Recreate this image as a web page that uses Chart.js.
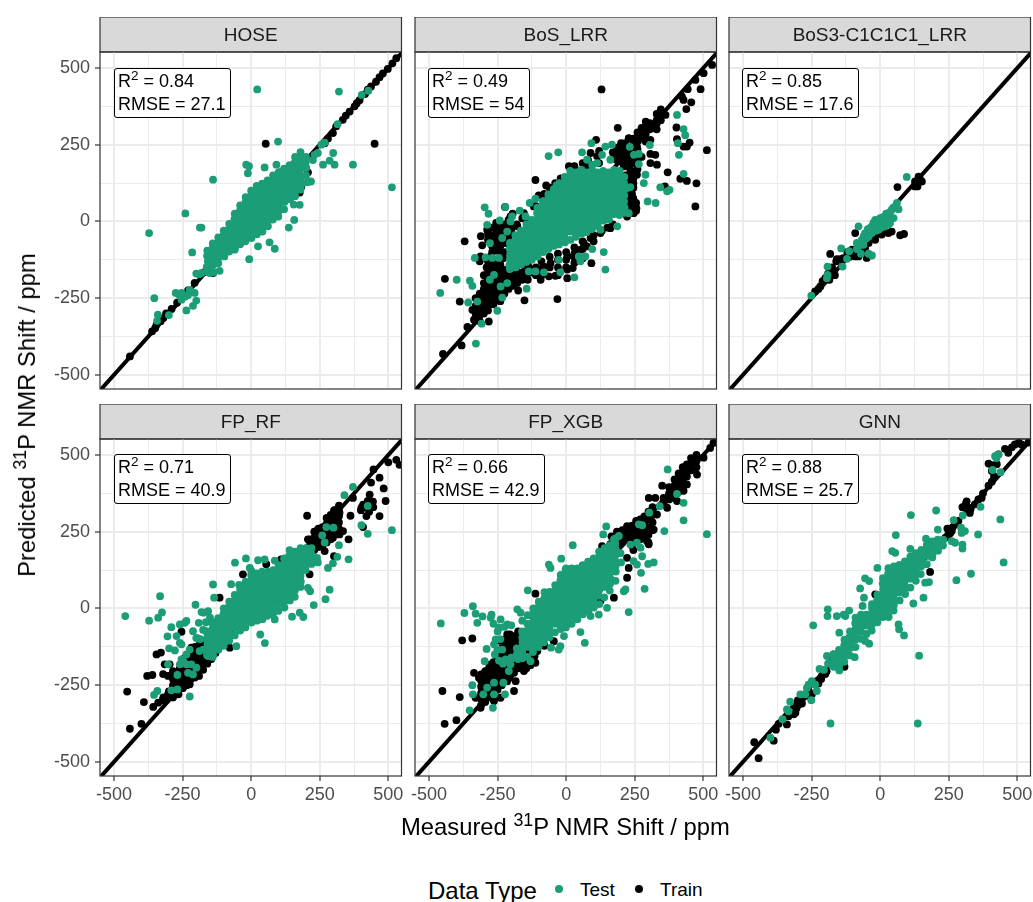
<!DOCTYPE html>
<html>
<head>
<meta charset="utf-8">
<title>31P NMR shift parity plots</title>
<script src="https://cdn.jsdelivr.net/npm/chart.js@4"></script>
<style>
  html, body { margin: 0; padding: 0; background: #fff; overflow: hidden; }
  body { width: 1033px; height: 902px; position: relative; font-family: "Liberation Sans", Arial, sans-serif; color: #000; }
  canvas { position: absolute; }
  .stats { position: absolute; background: #fff; border: 1px solid #000; border-radius: 3px; padding: 1px 4px 1px 3px; font-size: 18px; line-height: 23px; white-space: nowrap; z-index: 5; }
  .stats sup, .axis-title sup { font-size: 75%; line-height: 0; }
  .axis-title { position: absolute; font-size: 23.8px; line-height: 28px; white-space: nowrap; z-index: 5; }
  .legend-text { position: absolute; white-space: nowrap; }
  .legend-dot { position: absolute; width: 8px; height: 8px; border-radius: 50%; }
</style>
</head>
<body>
<canvas id="c0" width="370" height="402" style="left:40px;top:17px"></canvas>
<canvas id="c1" width="370" height="402" style="left:355px;top:17px"></canvas>
<canvas id="c2" width="370" height="402" style="left:669px;top:17px"></canvas>
<canvas id="c3" width="370" height="402" style="left:40px;top:404px"></canvas>
<canvas id="c4" width="370" height="402" style="left:355px;top:404px"></canvas>
<canvas id="c5" width="370" height="402" style="left:669px;top:404px"></canvas>

<div class="stats" style="left:114px;top:68px">R<sup>2</sup> = 0.84<br>RMSE = 27.1</div>
<div class="stats" style="left:428px;top:68px">R<sup>2</sup> = 0.49<br>RMSE = 54</div>
<div class="stats" style="left:742px;top:68px">R<sup>2</sup> = 0.85<br>RMSE = 17.6</div>
<div class="stats" style="left:114px;top:454px">R<sup>2</sup> = 0.71<br>RMSE = 40.9</div>
<div class="stats" style="left:428px;top:454px">R<sup>2</sup> = 0.66<br>RMSE = 42.9</div>
<div class="stats" style="left:742px;top:454px">R<sup>2</sup> = 0.88<br>RMSE = 25.7</div>

<div class="axis-title" style="left:401px;top:813px">Measured <sup>31</sup>P NMR Shift / ppm</div>
<div class="axis-title" style="left:27px;top:415px;transform:translate(-50%,-50%) rotate(-90deg)">Predicted <sup>31</sup>P NMR Shift / ppm</div>

<div class="legend-text" style="left:428px;top:877px;font-size:24px;line-height:28px">Data Type</div>
<div class="legend-dot" style="left:555px;top:885px;background:#1b9e77"></div>
<div class="legend-text" style="left:580px;top:879px;font-size:19px;line-height:22px">Test</div>
<div class="legend-dot" style="left:635px;top:885px;background:#000"></div>
<div class="legend-text" style="left:660px;top:879px;font-size:19px;line-height:22px">Train</div>

<script>
const panelNames = ['HOSE', 'BoS_LRR', 'BoS3-C1C1C1_LRR', 'FP_RF', 'FP_XGB', 'GNN'];
const majorTicks = [-500, -250, 0, 250, 500];
const minorTicks = [-375, -125, 125, 375];
const parityLine = [[-600, -600], [600, 600]];

const hoseTrain = [[-442,-440],[-361,-358],[-345,-337],[-330,-325],[-290,-285],[-270,-265],[-206,-200],[-139,-168],[-150,-152],[-170,-165],[-100,-110],
  [268,255],[298,288],[334,331],[359,358],[377,375],[425,429],[437,440],[468,470],[498,497],[529,532],
  [53,253],[450,253],[207,160],[177,94],[183,114],[105,160],[79,125],[130,150],[160,120],
  [280,270],[310,310],[345,345],[385,385],[395,395],[415,415],[455,455],[480,482],[515,515],[-320,-315],[-310,-300],[-250,-245],[-230,-225],[-350,-348]];
const hoseTest = [[22,430],[320,423],[403,412],[427,426],[315,317],[268,257],[256,250],[98,260],[243,223],[231,217],[299,223],[371,185],[262,185],[286,198],[304,185],[513,111],
  [-18,185],[-12,157],[-8,180],[49,176],[92,185],[-139,136],[-240,26],[-372,-38],[-187,-20],[-181,-20],[-215,-101],[-7,-123],[86,-89],[67,-68],[25,-81],[137,-20],[157,5],[177,54],[155,55],
  [-353,-250],[-340,-304],[-343,-324],[-300,-305],[-236,-290],[-212,-275],[-200,-258],[-275,-233],[-254,-233],[-224,-223],[-206,-233],[-254,-255],[-240,-245],[-262,-240],[-230,-240],[-200,-170],[-181,-168],[-151,-168],[-115,-161],[-190,-172],
  [-160,-95],[-161,-112],[-158,-130],[-162,-148],[-160,-163],
  [-140,-72],[-142,-90],[-139,-108],[-141,-126],[-140,-144],[-138,-166],
  [-120,-52],[-121,-70],[-118,-88],[-120,-106],[-122,-124],[-120,-136],
  [-100,-30],[-102,-48],[-99,-66],[-100,-84],[-101,-102],[-98,-114],
  [-80,-8],[-81,-26],[-78,-44],[-80,-62],[-82,-80],[-80,-98],
  [-60,25],[-61,7],[-59,-11],[-60,-29],[-62,-47],[-60,-65],[-58,-83],[-60,-92],
  [-40,52],[-41,34],[-39,16],[-40,-2],[-42,-20],[-40,-38],[-38,-56],[-40,-74],
  [-20,79],[-21,61],[-19,43],[-20,25],[-22,7],[-20,-11],[-18,-29],[-20,-47],[-21,-65],
  [0,100],[-1,82],[1,64],[0,46],[-2,28],[0,10],[2,-8],[0,-26],[-1,-44],[1,-54],
  [20,116],[19,98],[21,80],[20,62],[18,44],[20,26],[22,8],[20,-10],[19,-28],[21,-42],
  [40,123],[39,105],[41,87],[40,69],[38,51],[40,33],[42,15],[40,-3],[39,-21],[41,-33],
  [60,134],[59,116],[61,98],[60,80],[58,62],[60,44],[62,26],[60,8],[59,-10],[61,-16],
  [80,150],[79,132],[81,114],[80,96],[78,78],[80,60],[82,42],[80,24],[79,6],
  [100,160],[99,142],[101,124],[100,106],[98,88],[100,70],[102,52],[100,34],[99,16],
  [120,172],[119,154],[121,136],[120,118],[118,100],[120,82],[122,64],[120,40],
  [140,183],[139,165],[141,147],[140,129],[138,111],[140,93],[142,72],
  [160,210],[159,192],[161,174],[160,156],[158,138],[160,120],[162,100],[160,82],
  [180,226],[179,208],[181,190],[180,172],[178,154],[180,136],[182,118],[180,104],
  [200,210],[199,192],[201,174],[200,150],[218,130],[205,128],[225,200]];

const bosTrain = [[129,430],[188,305],[402,306],[513,232],[471,49],[475,124],[440,132],[416,139],[370,160],[440,244],[450,257],[428,244],[404,268],[438,366],[456,388],[490,431],[443,431],[422,407],[428,396],[471,461],[501,483],[532,510],[362,347],[331,320],[313,304],[283,277],[271,282],[228,271],[109,266],[325,217],[307,220],[331,185],[307,190],[258,152],[234,157],[360,114],[256,43],
  [-112,135],[-73,117],[-370,-65],[-311,-48],[-306,-78],[-223,47],[-245,-8],[-442,-187],[-388,-261],[-152,-257],[-32,-253],[-282,-326],[-381,-404],[-449,-432],[-360,-344],[-336,-320],[-342,-288],[-318,-293],[-288,-271],[-263,-244],[-245,-233],[-93,-190],[-63,-179],[4,-185],[-39,-177],[24,-152],[92,-136],
  [89,223],[113,212],[186,223],[222,212],[210,179],[234,168],[222,103],[234,71],[246,27],[222,16],[161,-22],[125,-38],[89,-54],[64,-71],[258,244],[271,277],[307,266],[-178,-16],[-203,16],[-154,27],[-118,49],[-142,5],[-288,-27],[-239,-38],[-263,-60],[-312,-114],[-275,-114],[-251,-136],[-275,-179],[-300,-201],[-251,-223],[-227,-157],[-203,-201],[-178,-201],[-154,-179],[-118,-168],[-81,-147],[-57,-136],[4,-114],[28,-114],[52,-92],[76,-81],[4,-157],
  [190,200],[205,215],[215,230],[195,220],[235,195],[250,215],[240,240],[262,262],[218,150],[245,125],[225,135],[240,90],[-260,-90],[-255,-160],[-240,-140],[-290,-150],[-300,-240],[-285,-225],[-265,-205],[-250,-180],[-230,-190],[-300,-270],[-315,-290],[-265,-270],[-250,-255],[-230,-120],[-220,-70],[-220,-25],[-200,-30],[-180,-10],[-170,-170],[-135,-150],
  [170,205],[170,225],[185,200],[185,240],[200,195],[200,215],[200,235],[200,255],[215,195],[215,255],[230,180],[230,200],[230,220],[230,270],[245,190],[245,250],[245,270],[260,170],[260,200],[260,235],[260,290],[275,210],[275,290],[275,305],[290,260],[290,285],[290,310],[290,325],[305,300],[305,320],[330,300],[330,330],[330,350],[345,330],[345,365],
  [215,60],[215,80],[215,120],[215,40],[230,40],[230,60],[230,85],[230,125],[245,55],[245,75],[245,110],[245,140],[255,60],[255,35],
  [-330,-250],[-330,-275],[-330,-300],[-330,-320],[-315,-130],[-315,-235],[-315,-255],[-315,-275],[-315,-300],[-315,-325],[-300,-175],[-300,-220],[-300,-260],[-300,-280],[-300,-300],
  [-285,-40],[-285,-60],[-285,-130],[-285,-170],[-285,-190],[-285,-210],[-285,-250],[-285,-290],[-270,-20],[-270,-45],[-270,-80],[-270,-100],[-270,-135],[-270,-155],[-270,-195],[-270,-215],[-270,-235],[-270,-255],
  [-255,-5],[-255,-25],[-255,-50],[-255,-75],[-255,-95],[-255,-150],[-255,-170],[-255,-190],[-255,-210],[-255,-230],[-255,-250],[-240,-15],[-240,-60],[-240,-80],[-240,-100],[-240,-150],[-240,-170],[-240,-190],[-240,-210],[-240,-230],[-240,-260],
  [-225,-10],[-225,-30],[-225,-50],[-225,-70],[-225,-100],[-225,-170],[-225,-190],[-225,-210],[-225,-235],[-210,5],[-210,-15],[-210,-50],[-210,-180],[-210,-200],[-210,-220],[-195,25],[-195,-15],[-195,-170],[-195,-190],[-195,-210],
  [-175,-165],[-175,-185],[-175,-225],[-160,10],[-160,-170],[-160,-190],[-140,-170],[-140,-190],[-110,50],[-110,-150],[-110,-175],[-90,-130],[-90,-155],[-90,-175],[-60,-115],[-60,-150],[-30,-105],[-30,-125],[-30,-150],[-30,-175],[0,-100],[0,-125],[0,-150],[30,-85],[30,-105],[30,-135],[60,-65],[60,-90],[60,-120],[100,-45],[100,-65],[130,-30],[150,-20],[170,-10],
  [-100,85],[-80,90],[-60,110],[-40,125],[-20,140],[10,180],[30,180],[60,190],[80,200],[80,180],[120,230],[120,190]];
const bosTest = [[404,347],[428,301],[434,281],[407,255],[411,217],[428,155],[305,249],[289,152],[283,125],[343,111],[368,98],[377,103],[297,65],[326,60],[234,112],[222,109],[265,187],[232,243],[247,217],[265,220],[167,250],[143,244],[131,217],[92,255],[58,225],[76,201],[95,185],[113,190],[161,201],[-29,225],[-64,213],[-35,117],[-112,74],[-133,60],[-169,35],[-148,16],[-197,16],[-203,0],[-222,47],[-297,46],[-283,25],[-288,-11],[-242,3],[-215,-33],[-233,-54],[-278,-71],[-333,-119],[-294,-117],[-269,-119],[-245,-119],[-263,-174],[-278,-190],[-399,-190],[-351,-193],[-342,-210],[-459,-233],[-357,-264],[-324,-261],[-233,-248],[-251,-291],[-308,-333],[-329,-398],[-239,-212],[-215,-201],[-144,-219],[-136,-163],[-112,-163],[-81,-166],[-21,-166],[30,-182],[143,-157],[137,-100],[95,-90],[46,-114],[70,-114],[52,-130],[-27,-125],[186,-16],[125,-27],[228,27],
  [-205,-70],[-206,-88],[-204,-106],[-205,-124],[-207,-142],[-205,-155],
  [-185,-45],[-186,-63],[-184,-81],[-185,-99],[-187,-117],[-185,-135],[-184,-150],
  [-165,-30],[-166,-48],[-164,-66],[-165,-84],[-167,-102],[-165,-120],[-164,-140],
  [-145,-10],[-146,-28],[-144,-46],[-145,-64],[-147,-82],[-145,-100],[-144,-118],[-145,-132],
  [-125,5],[-126,-13],[-124,-31],[-125,-49],[-127,-67],[-125,-85],[-124,-103],[-125,-125],
  [-105,45],[-106,27],[-104,9],[-105,-9],[-107,-27],[-105,-45],[-104,-63],[-105,-81],[-106,-99],[-104,-115],
  [-85,65],[-86,47],[-84,29],[-85,11],[-87,-7],[-85,-25],[-84,-43],[-85,-61],[-86,-79],[-84,-100],
  [-65,88],[-66,70],[-64,52],[-65,34],[-67,16],[-65,-2],[-64,-20],[-65,-38],[-66,-56],[-64,-74],[-65,-90],
  [-45,105],[-46,87],[-44,69],[-45,51],[-47,33],[-45,15],[-44,-3],[-45,-21],[-46,-39],[-44,-57],[-45,-80],
  [-25,125],[-26,107],[-24,89],[-25,71],[-27,53],[-25,35],[-24,17],[-25,-1],[-26,-19],[-24,-37],[-25,-55],[-26,-75],
  [-5,145],[-6,127],[-4,109],[-5,91],[-7,73],[-5,55],[-4,37],[-5,19],[-6,1],[-4,-17],[-5,-35],[-6,-53],[-4,-68],
  [15,165],[14,147],[16,129],[15,111],[13,93],[15,75],[16,57],[15,39],[14,21],[16,3],[15,-15],[14,-33],[16,-60],
  [35,160],[34,142],[36,124],[35,106],[33,88],[35,70],[36,52],[35,34],[34,16],[36,-2],[35,-20],[34,-38],[36,-50],
  [55,168],[54,150],[56,132],[55,114],[53,96],[55,78],[56,60],[55,42],[54,24],[56,6],[55,-12],[54,-30],[56,-40],
  [75,160],[74,142],[76,124],[75,106],[73,88],[75,70],[76,52],[75,34],[74,16],[76,-2],[75,-20],[74,-35],
  [95,168],[94,150],[96,132],[95,114],[93,96],[95,78],[96,60],[95,42],[94,24],[96,6],[95,-12],[94,-25],
  [115,160],[114,142],[116,124],[115,106],[113,88],[115,70],[116,52],[115,34],[114,16],[116,-2],[115,-15],
  [135,165],[134,147],[136,129],[135,111],[133,93],[135,75],[136,57],[135,39],[134,21],[136,3],
  [155,160],[154,142],[156,124],[155,106],[153,88],[155,70],[156,52],[155,34],[154,16],[156,6],
  [175,168],[174,150],[176,132],[175,114],[173,96],[175,78],[176,60],[175,42],[174,24],
  [195,165],[194,147],[196,129],[195,111],[193,93],[195,75],[196,57],[195,39],[194,21],
  [212,145],[211,125],[213,105],[212,85],[211,65],[213,45],[212,28]];

const bos3Train = [[63,112],[127,130],[152,130],[140,146],[127,114],[136,114],[87,-41],[73,-45],[42,-33],[30,-38],[6,-43],[-18,-60],[-42,-70],[-55,-87],[-67,-98],[-91,-114],[-103,-92],[-146,-123],[-158,-123],[-182,-106],[-91,-38],[-49,-119],[-170,-168],[-175,-150],[-200,-185],[-182,-157],[-237,-228],[-218,-212],[-79,-114],
  [-120,-100],[-135,-120],[-160,-130],[-100,-100],[-110,-115],[-80,-100],[-60,-80],[-40,-60],[-20,-50],[0,-40],[20,-35],[-190,-170],[-210,-195],[-185,-190],[-165,-175],[135,130],[145,138],[-225,-220]];
const bos3Test = [[97,145],[-79,-81],[-85,-70],[-67,-60],[-55,-38],[-42,-33],[-30,-16],[-18,5],[-24,-27],[-6,-27],[6,-5],[18,16],[30,27],[42,38],[55,49],[67,40],[61,60],[18,-16],[36,-5],[49,11],[0,11],[-12,-12],[-42,-49],[-30,-38],[-61,-76],[-79,-16],[-142,-88],[-113,-97],[-121,-122],[-137,-147],[-192,-147],[-192,-174],[-194,-185],[-251,-242],[-70,-105],[-42,-105],[-30,-111],[25,5],[12,15],[-8,-10],[-60,-48],[-50,-55],[-35,-20],
  [-70,-70],[-60,-65],[-50,-45],[-40,-40],[-25,-5],[-10,0],[10,5],[22,25],[36,30],[48,45],[-15,-30],[5,-20],[30,-10],[15,0],[-5,-15],[-30,-30],[-45,-25],[60,45],[-20,-15],[-85,-90]];

const rfTrain = [[-442,-392],[-400,-376],[-391,-305],[-452,-271],[-357,-321],[-339,-307],[-321,-296],[-303,-280],[-285,-275],[-379,-220],[-360,-217],[-345,-150],[-329,-144],[-315,-182],[-297,-182],[-321,-214],[-303,-220],[-285,-225],[-266,-247],[-248,-258],[-224,-247],[-272,-280],[-285,-258],[-254,-76],
  [-212,-150],[-188,-139],[-163,-172],[-188,-194],[-200,-215],[-224,-225],[-248,-215],[-151,-161],[-127,-128],[-176,-161],[-200,-172],[-260,-194],[-236,-194],[-218,-128],[-242,-161],[-285,-204],[-115,-47],[-115,35],[-78,-128],
  [204,302],[238,252],[256,258],[274,274],[298,290],[322,312],[302,319],[322,241],[298,230],[355,225],[335,252],[286,241],[268,187],[238,209],[207,225],[219,176],[225,154],[302,170],[362,302],[371,360],[402,328],[420,301],[408,338],[432,371],[444,348],[468,301],[490,350],[483,391],[468,426],[437,410],[446,453],[408,265],[500,476],[529,484],[541,468],
  [55,144],[109,160],[13,111],[-30,111],[213,111],
  [-320,-290],[-320,-300],[-300,-270],[-300,-285],[-285,-210],[-285,-230],[-285,-250],[-285,-290],[-265,-225],[-265,-245],[-265,-265],[-265,-280],[-250,-200],[-250,-220],[-250,-240],[-250,-260],
  [-235,-165],[-235,-185],[-235,-205],[-235,-225],[-235,-250],[-220,-150],[-220,-170],[-220,-190],[-220,-210],[-220,-230],[-205,-125],[-205,-145],[-205,-165],[-205,-185],[-205,-205],[-205,-225],
  [-190,-120],[-190,-140],[-190,-160],[-190,-180],[-190,-200],[-190,-220],[-175,-120],[-175,-140],[-175,-160],[-175,-180],[-175,-200],[-160,-125],[-160,-145],[-160,-165],[-160,-180],[-145,-130],[-145,-150],[-145,-165],[-130,-125],[-130,-145],
  [215,185],[215,205],[215,225],[230,190],[230,210],[230,230],[230,250],[245,200],[245,220],[245,240],[245,260],[260,205],[260,225],[260,245],[260,265],[275,215],[275,235],[275,255],[275,295],[290,225],[290,245],[290,265],[290,285],[290,305],[305,240],[305,260],[305,280],[305,300],[305,320],[320,260],[320,280],[320,300],[320,320],[320,335],
  [415,330],[430,315],[445,330],[425,350],[400,320]];
const rfTest = [[-459,-25],[-332,40],[-325,-13],[-339,-30],[-372,-40],[-291,-61],[-305,-91],[-299,-130],[-278,-137],[-303,-182],[-354,-282],[-342,-269],[-224,-287],[-291,-267],[-269,-264],[-269,-217],[-260,-182],[-248,-171],[-203,12],[-181,-12],[-173,-14],[-139,78],[-135,35],[-242,-47],[-260,-52],[-236,-41],[-212,-74],[-200,-96],[-194,-98],[-272,-90],[-260,-112],[-254,-117],[-224,-134],[-236,-150],[-254,-166],[-236,-182],[-218,-182],[-200,-193],[-212,-215],[-230,-210],[-188,-139],[-175,-134],[-163,-74],[-151,-106],[-139,-150],[-157,-155],[-191,-47],[-157,-9],
  [-185,-100],[-175,-70],[-165,-45],[-150,-30],[-145,-45],[-135,-45],
  [-73,79],[-44,77],[-59,149],[-19,163],[25,157],[49,160],[86,156],[-5,132],[1,122],[33,-85],[50,-113],[-54,-123],[86,-36],[149,-27],[177,-14],[190,-28],[228,11],[271,30],[286,61],[215,56],[207,67],[355,160],[314,168],[298,147],[280,132],[320,206],[268,215],[259,238],[274,265],[300,263],[402,271],[425,243],[513,255],[425,334],[340,369],[371,396],
  [-160,-80],[-161,-98],[-159,-116],[-160,-134],[-161,-152],
  [-140,-65],[-141,-83],[-139,-101],[-140,-119],[-142,-137],[-140,-158],
  [-120,-32],[-121,-50],[-119,-68],[-120,-86],[-122,-104],[-120,-122],[-119,-134],
  [-100,0],[-101,-18],[-99,-36],[-100,-54],[-102,-72],[-100,-90],[-99,-108],[-100,-122],
  [-80,22],[-81,4],[-79,-14],[-80,-32],[-82,-50],[-80,-68],[-79,-86],[-80,-105],
  [-60,44],[-61,26],[-59,8],[-60,-10],[-62,-28],[-60,-46],[-59,-64],[-60,-88],
  [-40,60],[-41,42],[-39,24],[-40,6],[-42,-12],[-40,-30],[-39,-48],[-40,-72],
  [-20,87],[-21,69],[-19,51],[-20,33],[-22,15],[-20,-3],[-19,-21],[-20,-39],[-21,-62],
  [0,109],[-1,91],[1,73],[0,55],[-2,37],[0,19],[1,1],[0,-17],[-1,-35],[1,-46],
  [20,114],[19,96],[21,78],[20,60],[18,42],[20,24],[21,6],[20,-12],[19,-30],[21,-40],
  [40,120],[39,102],[41,84],[40,66],[38,48],[40,30],[41,12],[40,-6],[39,-24],[41,-35],
  [60,120],[59,102],[61,84],[60,66],[58,48],[60,30],[61,12],[60,-6],[59,-24],
  [80,125],[79,107],[81,89],[80,71],[78,53],[80,35],[81,17],[80,-1],[79,-19],
  [100,141],[99,123],[101,105],[100,87],[98,69],[100,51],[101,33],[100,15],[99,-8],
  [120,163],[119,145],[121,127],[120,109],[118,91],[120,73],[121,55],[120,37],[119,19],[121,3],
  [140,190],[139,172],[141,154],[140,136],[138,118],[140,100],[141,82],[140,64],[139,46],[141,26],
  [160,185],[159,167],[161,149],[160,131],[158,113],[160,95],[161,77],[160,59],[159,38],
  [180,196],[179,178],[181,160],[180,142],[178,124],[180,106],[181,88],[180,70],
  [200,196],[199,178],[201,160],[200,142],[198,125],
  [220,196],[219,178],[221,160],[220,145],[240,165],[243,150]];

const xgbTrain = [[-443,-376],[-400,-364],[-451,-269],[-388,-289],[-379,-104],[-342,-98],[-112,48],[-336,-210],[-318,-226],[-306,-258],[-330,-291],[-312,-324],[-288,-291],[-251,-193],[-184,-237],[-190,-269],[-251,-258],[-239,-291],[-263,-302],
  [-294,-204],[-275,-182],[-251,-171],[-227,-150],[-203,-139],[-178,-117],[-154,-204],[-112,-177],[-245,-63],[-215,-85],[-191,-106],[-166,-85],[-142,-74],[-239,-106],[-251,-204],[-178,-182],[-154,-182],[-263,-226],[-227,-215],[-215,-237],[-79,-122],[-45,-107],[-105,-139],[-290,-250],[-270,-240],[-240,-215],
  [131,203],[125,165],[161,209],[174,230],[222,268],[210,240],[234,240],[258,240],[283,262],[301,209],[319,257],[331,306],[307,295],[301,360],[325,360],[368,328],[356,350],[380,393],[404,415],[428,426],[440,469],[477,436],[501,491],[525,523],[537,539],[428,383],[440,404],[404,350],[295,219],[271,230],
  [222,165],[228,132],[222,100],[174,35],[125,24],[245,190],[250,215],[350,400],[470,470],[415,385],
  [-310,-215],[-310,-235],[-310,-255],[-310,-275],[-310,-295],[-310,-315],[-295,-205],[-295,-225],[-295,-245],[-295,-265],[-295,-285],[-295,-305],[-280,-190],[-280,-210],[-280,-230],[-280,-250],[-280,-270],[-280,-290],
  [-265,-175],[-265,-195],[-265,-215],[-265,-235],[-265,-255],[-265,-275],[-265,-295],[-250,-165],[-250,-185],[-250,-205],[-250,-225],[-250,-245],[-250,-265],[-235,-130],[-235,-150],[-235,-170],[-235,-190],[-235,-210],[-235,-230],[-235,-250],
  [-220,-100],[-220,-120],[-220,-140],[-220,-160],[-220,-180],[-220,-200],[-220,-220],[-205,-85],[-205,-105],[-205,-125],[-205,-145],[-205,-165],[-205,-185],[-205,-205],[-205,-225],[-190,-90],[-190,-110],[-190,-130],[-190,-150],[-190,-170],[-190,-190],[-190,-210],
  [-175,-75],[-175,-95],[-175,-115],[-175,-135],[-175,-155],[-175,-175],[-175,-195],[-160,-85],[-160,-105],[-160,-125],[-160,-145],[-160,-165],[-160,-185],[-145,-100],[-145,-120],[-145,-140],[-145,-160],[-145,-180],[-145,-195],[-130,-125],[-130,-145],[-130,-165],[-130,-185],[-115,-135],[-115,-155],[-115,-175],
  [165,190],[165,210],[165,235],[185,210],[185,230],[185,250],[205,215],[205,235],[205,255],[225,225],[225,245],[225,265],[240,205],[240,225],[240,250],[240,270],[255,220],[255,240],[255,260],[255,285],[270,225],[270,245],[270,265],[270,290],[285,240],[285,260],[285,280],[285,300],[300,215],[300,240],[300,265],[300,290],[300,315],[315,255],[315,280],[315,305],[315,330],
  [355,340],[355,360],[375,355],[375,375],[375,395],[395,360],[395,380],[395,400],[395,420],[410,380],[410,400],[410,420],[410,440],[425,395],[425,415],[425,435],[425,460],[440,430],[440,450],[455,450],[455,470],[455,490],[475,460],[475,480],[475,500]];
const xgbTest = [[-457,-49],[-371,-15],[-340,7],[-330,-17],[-324,-47],[-305,-26],[-275,-30],[-272,-20],[-239,-36],[-215,-52],[-245,-63],[-290,-132],[-297,-172],[-257,-101],[-263,-117],[-251,-134],[-233,-134],[-342,-250],[-340,-280],[-352,-332],[-267,-324],[-302,-280],[-288,-258],[-263,-242],[-263,-280],[-223,-280],[-229,-242],[-221,-166],[-203,-182],[-209,-204],[-190,-161],[-166,-161],[-130,-172],[-178,-3],[-166,-14],[-140,59],[-79,53],[-63,143],[-57,132],[-18,162],[24,206],[-2,127],
  [-180,-150],[-200,-160],[-180,-130],[-160,-95],[-160,-125],[-145,-85],[-175,-165],[-215,-170],[-230,-180],[-245,-170],[-260,-150],[-240,-100],[-250,-75],[-265,-50],[-225,-60],[-200,-55],
  [-55,-128],[-27,-134],[-21,-123],[-8,-90],[52,-77],[68,-112],[228,-12],[286,64],[210,56],[216,62],[149,2],[119,-20],[89,-25],[273,116],[299,145],[319,150],[258,143],[246,154],[146,267],[135,241],[192,236],[174,225],[234,208],[258,214],[271,198],[277,170],[265,274],[277,271],[303,312],[341,333],[358,252],[404,373],[428,344],[428,287],[370,453],[513,242],
  [-160,-40],[-161,-75],[-159,-110],[-160,-140],[-161,-162],
  [-140,-22],[-141,-50],[-139,-90],[-140,-125],[-142,-158],[-141,-105],[-140,-70],
  [-120,0],[-121,-18],[-119,-36],[-120,-54],[-122,-72],[-120,-90],[-119,-108],[-120,-126],[-121,-142],
  [-100,22],[-101,4],[-99,-14],[-100,-32],[-102,-50],[-100,-68],[-99,-86],[-100,-104],[-101,-126],
  [-80,33],[-81,15],[-79,-3],[-80,-21],[-82,-39],[-80,-57],[-79,-75],[-80,-93],[-81,-110],
  [-60,54],[-61,36],[-59,18],[-60,0],[-62,-18],[-60,-36],[-59,-54],[-60,-72],[-61,-94],
  [-40,76],[-41,58],[-39,40],[-40,22],[-42,4],[-40,-14],[-39,-32],[-40,-50],[-41,-78],
  [-20,109],[-21,91],[-19,73],[-20,55],[-22,37],[-20,19],[-19,1],[-20,-17],[-21,-35],[-19,-53],[-20,-67],
  [0,130],[-1,112],[1,94],[0,76],[-2,58],[0,40],[1,22],[0,4],[-1,-14],[1,-32],[0,-50],[-1,-62],
  [20,130],[19,112],[21,94],[20,76],[18,58],[20,40],[21,22],[20,4],[19,-14],[21,-32],[20,-50],
  [40,130],[39,112],[41,94],[40,76],[38,58],[40,40],[41,22],[40,4],[39,-14],[41,-35],
  [60,141],[59,123],[61,105],[60,87],[58,69],[60,51],[61,33],[60,15],[59,-3],[61,-19],
  [80,152],[79,134],[81,116],[80,98],[78,80],[80,62],[81,44],[80,26],[79,8],[81,-8],
  [100,163],[99,145],[101,127],[100,109],[98,91],[100,73],[101,55],[100,37],[99,19],[101,3],
  [120,185],[119,167],[121,149],[120,131],[118,113],[120,95],[121,77],[120,59],[119,41],[121,14],
  [140,196],[139,178],[141,160],[140,142],[138,124],[140,106],[141,88],[140,70],[139,36],
  [160,206],[159,188],[161,170],[160,152],[158,134],[160,116],[161,98],[160,80],[159,58],
  [180,228],[179,210],[181,192],[180,174],[178,156],[180,138],[181,120],[180,90],[198,180],[200,150]];

const gnnTrain = [[-443,-488],[-459,-436],[-388,-431],[-380,-395],[-340,-378],[-370,-376],[-334,-351],[-309,-340],[-297,-313],[-315,-345],[-291,-302],[-273,-280],[-249,-280],[-213,-221],[-231,-237],[-200,-214],[-176,-160],[-140,-182],[-134,-171],[-170,-150],[-18,46],[182,119],[237,230],[261,252],[249,241],[273,274],[315,349],[327,311],[321,328],[309,328],[345,339],[370,360],[358,355],[407,413],[407,467],[395,472],[431,502],[467,507],[491,534],[515,534],[540,540],[407,448],
  [-305,-325],[-285,-295],[-270,-285],[-300,-300],[-285,-310],[-260,-270],[-215,-230],[-225,-245],[-195,-205],[-130,-190],[-155,-185],[245,260],[255,245],[265,265],[285,285],[300,330],[312,340],[330,325],[375,375],[395,400],[415,430],[425,470],[455,520],[480,525],[505,540]];
const gnnTest = [[137,-375],[-181,-375],[142,-154],[-244,-55],[-149,-79],[87,-88],[67,-52],[69,-68],[-40,-115],[-55,-106],[-191,-3],[-192,-25],[-158,-25],[-127,-25],[-113,-7],[-133,-20],[-73,65],[-55,98],[-40,89],[-10,132],[-59,35],[-64,8],[-30,14],[44,187],[55,181],[57,239],[112,304],[204,319],[110,194],[167,227],[210,257],[268,288],[301,303],[295,263],[297,246],[309,252],[366,331],[438,290],[357,241],[450,150],[331,113],[278,92],[300,208],[300,195],[273,214],[261,219],[439,444],[410,451],[419,496],[431,502],[424,490],[121,16],[158,35],[178,86],[164,84],[-93,-159],[-149,-202],[-221,-197],[-194,-155],[-231,-269],[-251,-299],[-273,-280],[-291,-280],[-261,-248],[-267,-259],[-249,-237],[-237,-248],[-328,-304],[-340,-329],[-356,-361],[-400,-421],[-334,-335],
  [-170,-150],[-171,-170],[-169,-190],[-190,-180],[-205,-200],
  [-150,-135],[-151,-155],[-149,-175],[-150,-190],
  [-130,-102],[-131,-120],[-129,-138],[-130,-156],[-131,-174],
  [-110,-75],[-111,-93],[-109,-111],[-110,-129],[-111,-153],
  [-90,-30],[-91,-48],[-89,-66],[-90,-84],[-91,-102],[-90,-126],
  [-70,-20],[-71,-38],[-69,-56],[-70,-74],[-71,-99],
  [-50,-20],[-51,-38],[-49,-56],[-50,-83],
  [-30,2],[-31,-16],[-29,-34],[-30,-52],[-31,-72],
  [-10,45],[-11,27],[-9,9],[-10,-9],[-11,-27],[-10,-45],
  [10,99],[9,81],[11,63],[10,45],[8,27],[10,9],[11,-9],[10,-28],
  [30,131],[29,113],[31,95],[30,77],[28,59],[30,41],[31,23],[30,5],[29,-13],[31,-28],
  [50,137],[49,119],[51,101],[50,83],[48,65],[50,47],[51,29],[50,11],[49,-7],
  [70,142],[69,124],[71,106],[70,88],[68,70],[70,52],[71,26],
  [90,153],[89,135],[91,117],[90,99],[88,81],[90,63],[91,47],
  [110,169],[109,151],[111,133],[110,115],[108,97],[110,68],
  [130,180],[129,162],[131,144],[130,126],[128,108],[130,90],
  [150,191],[149,173],[151,155],[150,137],[148,112],
  [170,207],[169,189],[171,171],[170,144],
  [190,218],[189,200],[191,180],[190,166],
  [210,224],[209,206],[211,188],
  [230,224],[229,205]];

const trainSeries = [hoseTrain, bosTrain, bos3Train, rfTrain, xgbTrain, gnnTrain];
const testSeries = [hoseTest, bosTest, bos3Test, rfTest, xgbTest, gnnTest];

const allTicks = majorTicks.concat(minorTicks);
const isMajor = v => majorTicks.includes(v);

// strip behind the title, frame around the panel
const facetFrame = {
  id: 'facetFrame',
  beforeDraw(chart) {
    const a = chart.chartArea, c = chart.ctx;
    c.save();
    c.fillStyle = '#d9d9d9';
    c.strokeStyle = '#333333';
    c.lineWidth = 1.2;
    c.fillRect(a.left, a.top - 35, a.width, 35);
    c.strokeRect(a.left, a.top - 35, a.width, 35);
    c.restore();
  },
  afterDraw(chart) {
    const a = chart.chartArea, c = chart.ctx;
    c.save();
    c.strokeStyle = '#333333';
    c.lineWidth = 1.2;
    c.strokeRect(a.left, a.top, a.width, a.height);
    c.restore();
  }
};

function axisOptions(min, max, showLabels, fitSide, fitSize, labelPadding) {
  return {
    type: 'linear',
    min: min,
    max: max,
    bounds: 'data',
    afterBuildTicks: s => { s.ticks = allTicks.slice().sort((p, q) => p - q).map(v => ({ value: v })); },
    afterFit: s => { s[fitSide] = fitSize; },
    border: { display: false },
    grid: {
      color: '#ebebeb',
      lineWidth: c => (isMajor(c.tick.value) ? 2 : 1),
      drawTicks: showLabels,
      tickLength: 5,
      tickColor: c => (isMajor(c.tick.value) ? '#333333' : 'transparent'),
      tickWidth: 1.2
    },
    ticks: {
      display: showLabels,
      autoSkip: false,
      maxRotation: 0,
      padding: labelPadding,
      color: '#4d4d4d',
      font: { family: 'Liberation Sans', size: 18 },
      callback: v => (isMajor(v) ? String(v) : '')
    }
  };
}

panelNames.forEach((name, i) => {
  new Chart(document.getElementById('c' + i), {
    type: 'scatter',
    data: {
      datasets: [
        { label: 'Test', data: testSeries[i], order: 1, backgroundColor: '#1b9e77', borderWidth: 0, pointRadius: 3.9 },
        { label: 'Parity', data: parityLine, order: 2, showLine: true, borderColor: '#000', borderWidth: 4, pointRadius: 0 },
        { label: 'Train', data: trainSeries[i], order: 3, backgroundColor: '#000', borderWidth: 0, pointRadius: 3.9 }
      ]
    },
    options: {
      responsive: false,
      animation: false,
      events: [],
      layout: { padding: { left: 0, top: 0, right: 8.5, bottom: 0 } },
      plugins: {
        legend: { display: false },
        tooltip: { enabled: false },
        title: {
          display: true,
          fullSize: false,
          text: name,
          color: '#1a1a1a',
          font: { family: 'Liberation Sans', size: 19, weight: 'normal' },
          padding: { top: 7.5, bottom: 4.7 }
        }
      },
      scales: {
        x: axisOptions(-551, 548, i >= 3, 'height', 30, 3),
        y: axisOptions(-546, 552, i % 3 === 0, 'width', 60, 5)
      }
    },
    plugins: [facetFrame]
  });
});
</script>
</body>
</html>
